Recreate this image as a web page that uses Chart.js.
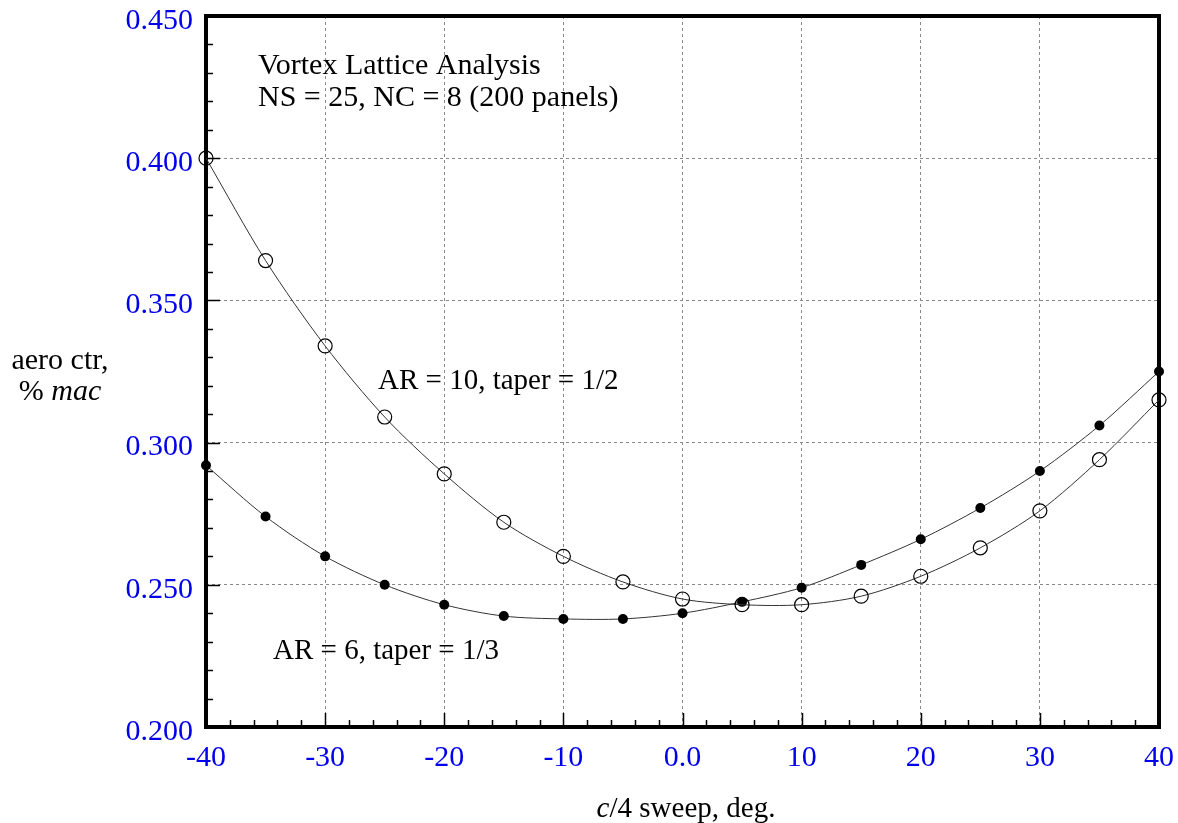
<!DOCTYPE html>
<html lang="en">
<head>
  <meta charset="UTF-8">
  <title>Vortex Lattice Analysis - aero centre vs sweep</title>
  <script src="https://cdn.jsdelivr.net/npm/chart.js"></script>
  <style>
    body { margin: 0; padding: 0; background: #ffffff; }
    .wrap { width: 1178px; height: 823px; position: relative; }
  </style>
</head>
<body>
  <div class="wrap"><canvas id="chart"></canvas></div>

  <script>
    // c/4 sweep, deg.
    const sweep = [-40, -35, -30, -25, -20, -15, -10, -5, 0, 5, 10, 15, 20, 25, 30, 35, 40];
    // AR = 10, taper = 1/2 (open circles)
    const ar10 = [0.400, 0.364, 0.334, 0.309, 0.289, 0.272, 0.260, 0.251, 0.245, 0.243, 0.243, 0.246, 0.253, 0.263, 0.276, 0.294, 0.315];
    // AR = 6, taper = 1/3 (filled dots)
    const ar6 = [0.292, 0.274, 0.260, 0.250, 0.243, 0.239, 0.238, 0.238, 0.240, 0.244, 0.249, 0.257, 0.266, 0.277, 0.290, 0.306, 0.325];

    const xTicks = [-40, -30, -20, -10, 0, 10, 20, 30, 40];
    const yTicks = [0.200, 0.250, 0.300, 0.350, 0.400, 0.450];

    const serif = '"Liberation Serif", "DejaVu Serif", serif';
    const blue = '#0000ee';

    // draw text made of parts, some italic
    function richText(ctx, parts, x, y, size, align) {
      let total = 0;
      parts.forEach(p => { ctx.font = (p.it ? 'italic ' : '') + size + 'px ' + serif; total += ctx.measureText(p.t).width; });
      let cx = align === 'center' ? x - total / 2 : (align === 'right' ? x - total : x);
      ctx.textAlign = 'left';
      parts.forEach(p => {
        ctx.font = (p.it ? 'italic ' : '') + size + 'px ' + serif;
        ctx.fillText(p.t, cx, y);
        cx += ctx.measureText(p.t).width;
      });
    }

    const frame = {
      id: 'frame',
      beforeDatasetsDraw(chart) {
        const { ctx, chartArea: a, scales: { x, y } } = chart;
        ctx.save();
        ctx.strokeStyle = '#000';
        ctx.lineWidth = 1.5;
        // inward ticks on bottom axis
        for (let v = -40; v <= 40; v += 2) {
          const px = Math.round(x.getPixelForValue(v)) + 0.5;
          const len = v % 10 === 0 ? 14 : 7;
          ctx.beginPath(); ctx.moveTo(px, a.bottom); ctx.lineTo(px, a.bottom - len); ctx.stroke();
        }
        // inward ticks on left axis
        for (let k = 0; k <= 25; k++) {
          const v = 0.2 + k * 0.01;
          const py = Math.round(y.getPixelForValue(v)) + 0.5;
          const len = k % 5 === 0 ? 14 : 7;
          ctx.beginPath(); ctx.moveTo(a.left, py); ctx.lineTo(a.left + len, py); ctx.stroke();
        }
        ctx.lineWidth = 4;
        ctx.strokeRect(a.left, a.top, a.right - a.left, a.bottom - a.top);
        ctx.restore();
      },
      afterDraw(chart) {
        const { ctx } = chart;
        ctx.save();
        ctx.fillStyle = '#000';
        ctx.textBaseline = 'alphabetic';
        richText(ctx, [{ t: 'Vortex Lattice Analysis' }], 258, 74, 30, 'left');
        richText(ctx, [{ t: 'NS = 25, NC = 8 (200 panels)' }], 258, 106, 30, 'left');
        richText(ctx, [{ t: 'AR = 10, taper = 1/2' }], 378, 389, 29, 'left');
        richText(ctx, [{ t: 'AR = 6, taper = 1/3' }], 273, 659, 29, 'left');
        richText(ctx, [{ t: 'c', it: true }, { t: '/4 sweep, deg.' }], 686, 817, 29, 'center');
        richText(ctx, [{ t: 'aero ctr,' }], 60, 369, 30, 'center');
        richText(ctx, [{ t: '% ' }, { t: 'mac', it: true }], 60, 400, 30, 'center');
        ctx.restore();
      }
    };

    new Chart(document.getElementById('chart'), {
      type: 'line',
      data: {
        datasets: [
          {
            label: 'AR = 10, taper = 1/2',
            data: sweep.map((s, i) => ({ x: s, y: ar10[i] })),
            borderColor: '#333', borderWidth: 1, tension: 0.3,
            pointStyle: 'circle', pointRadius: 7, pointBorderWidth: 1.2,
            pointBorderColor: '#000', pointBackgroundColor: 'rgba(0,0,0,0)', clip: false
          },
          {
            label: 'AR = 6, taper = 1/3',
            data: sweep.map((s, i) => ({ x: s, y: ar6[i] })),
            borderColor: '#333', borderWidth: 1, tension: 0.3,
            pointStyle: 'circle', pointRadius: 5, pointBorderWidth: 0,
            pointBackgroundColor: '#000', clip: false
          }
        ]
      },
      plugins: [frame],
      options: {
        responsive: true,
        maintainAspectRatio: false,
        animation: false,
        layout: { padding: { top: 16, right: 19, left: 0, bottom: 0 } },
        plugins: { legend: { display: false }, tooltip: { enabled: false } },
        scales: {
          x: {
            type: 'linear', min: -40, max: 40,
            afterFit: s => { s.height = 96; s.paddingLeft = 0; s.paddingRight = 0; },
            afterBuildTicks: s => { s.ticks = xTicks.map(v => ({ value: v })); },
            ticks: {
              color: blue, padding: 13, maxRotation: 0,
              font: { family: serif, size: 30 },
              callback: v => v === 0 ? '0.0' : String(v)
            },
            grid: { color: '#888', lineWidth: 1, drawTicks: false },
            border: { display: false, dash: [3, 3] }
          },
          y: {
            min: 0.2, max: 0.45,
            afterFit: s => { s.width = 206; s.paddingTop = 0; s.paddingBottom = 0; },
            afterBuildTicks: s => { s.ticks = yTicks.map(v => ({ value: v })); },
            ticks: {
              color: blue, padding: 13, labelOffset: 5,
              font: { family: serif, size: 30 },
              callback: v => Number(v).toFixed(3)
            },
            grid: { color: '#888', lineWidth: 1, drawTicks: false },
            border: { display: false, dash: [3, 3] }
          }
        }
      }
    });
  </script>
</body>
</html>
